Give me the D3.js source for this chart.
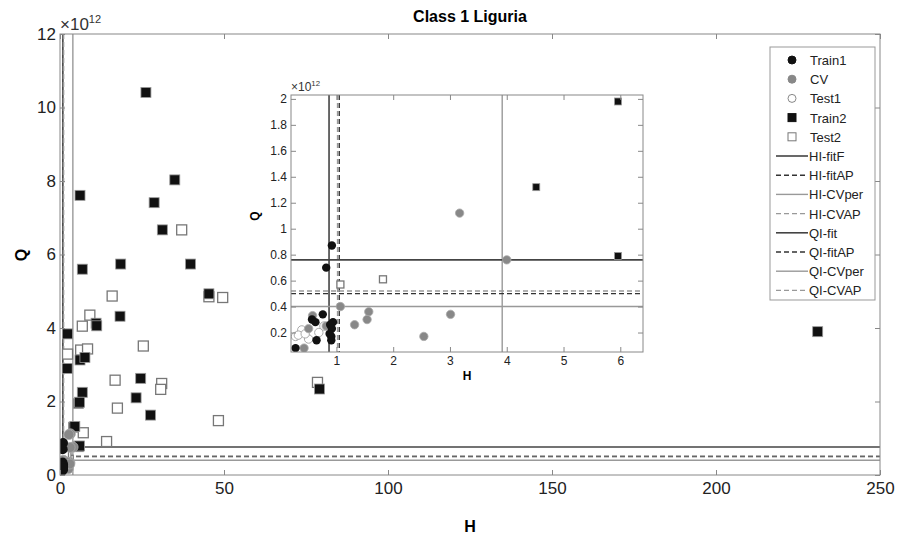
<!DOCTYPE html>
<html><head><meta charset="utf-8">
<script src="https://cdn.jsdelivr.net/npm/d3@7"></script>
<style>body{margin:0;background:#fff}svg{font-family:"Liberation Sans",Arial,sans-serif}</style>
</head><body><svg id="c" width="902" height="542"></svg>
<script>
// values in units of 1e12 for Q
const train1 = [[0.92,0.87],[0.82,0.70],[0.76,0.34],[0.57,0.30],[0.63,0.28],[0.94,0.28],[0.89,0.26],[0.91,0.17],[0.91,0.14],[0.65,0.14],[0.28,0.08],[0.92,0.23],[0.88,0.19]];
const cv = [[3.17,1.12],[4.0,0.76],[1.07,0.40],[1.57,0.36],[1.54,0.30],[1.32,0.26],[3.01,0.34],[2.54,0.17],[0.58,0.33],[0.51,0.23],[0.82,0.25],[0.43,0.08]];
const test1 = [[0.28,0.17],[0.39,0.22],[0.51,0.15],[0.69,0.20],[0.78,0.25],[0.33,0.18],[0.45,0.19]];
const train2Main = [[26.2,10.41],[35.0,8.03],[6.1,7.61],[28.7,7.41],[31.2,6.67],[39.8,5.74],[18.5,5.74],[6.8,5.6],[45.4,4.93],[18.3,4.32],[11.0,4.13],[11.2,4.06],[2.3,3.84],[6.1,3.13],[7.6,3.2],[2.2,2.9],[6.8,2.25],[5.6,1.95],[24.6,2.63],[23.2,2.1],[27.6,1.63],[79.1,2.34],[4.1,1.3],[5.6,0.77],[231,3.9]];
const train2Inset = [[5.96,1.98],[4.52,1.32],[5.96,0.79]];
const test2Main = [[37.1,6.67],[15.9,4.87],[9.1,4.35],[6.8,4.05],[6.3,3.4],[8.4,3.43],[2.3,3.29],[45.4,4.85],[49.6,4.83],[25.4,3.51],[31.0,2.49],[30.7,2.33],[16.8,2.58],[17.5,1.82],[7.1,1.15],[14.2,0.91],[48.3,1.48],[78.5,2.52],[2.5,0.4]];
const test2Inset = [[1.82,0.61],[1.07,0.57]];
const cvMain = [[2.7,1.1],[3.1,0.75],[2.2,0.35],[3.0,0.3]];
const vLines = [{n:"HI-fitF",v:0.87,c:"#444",d:null,w:1.6},{n:"HI-fitAP",v:1.05,c:"#333",d:"5,3",w:1.4},{n:"HI-CVper",v:3.92,c:"#999",d:null,w:1.4},{n:"HI-CVAP",v:1.02,c:"#999",d:"5,3",w:1.4}];
const hLines = [{n:"QI-fit",v:0.76,c:"#444",d:null,w:1.6},{n:"QI-fitAP",v:0.50,c:"#333",d:"5,3",w:1.4},{n:"QI-CVper",v:0.40,c:"#999",d:null,w:1.4},{n:"QI-CVAP",v:0.52,c:"#999",d:"5,3",w:1.4}];

const svg = d3.select("#c");

function panel(box, xd, yd, xt, yt, fs, ms, pts) {
  const x = d3.scaleLinear().domain(xd).range([box.l, box.r]);
  const y = d3.scaleLinear().domain(yd).range([box.b, box.t]);
  const g = svg.append("g");
  const cid = "clip" + box.l;
  g.append("clipPath").attr("id", cid).append("rect")
    .attr("x", box.l).attr("y", box.t).attr("width", box.r - box.l).attr("height", box.b - box.t);
  g.append("rect").attr("x", box.l).attr("y", box.t).attr("width", box.r - box.l).attr("height", box.b - box.t)
    .attr("fill", "#fff");
  const p = g.append("g").attr("clip-path", `url(#${cid})`);
  vLines.forEach(l => p.append("line").attr("x1", x(l.v)).attr("x2", x(l.v)).attr("y1", box.t).attr("y2", box.b)
    .attr("stroke", l.c).attr("stroke-width", l.w).attr("stroke-dasharray", l.d));
  hLines.forEach(l => p.append("line").attr("y1", y(l.v)).attr("y2", y(l.v)).attr("x1", box.l).attr("x2", box.r)
    .attr("stroke", l.c).attr("stroke-width", l.w).attr("stroke-dasharray", l.d));
  const sq = pts.sq;
  p.selectAll(".t2").data(pts.test2).enter().append("rect")
    .attr("x", d => x(d[0]) - sq / 2).attr("y", d => y(d[1]) - sq / 2).attr("width", sq).attr("height", sq)
    .attr("fill", "#fff").attr("stroke", "#777").attr("stroke-width", 1.3);
  p.selectAll(".tr2").data(pts.train2).enter().append("rect")
    .attr("x", d => x(d[0]) - sq / 2).attr("y", d => y(d[1]) - sq / 2).attr("width", sq).attr("height", sq)
    .attr("fill", "#111").attr("stroke", "#999").attr("stroke-width", 0.8);
  p.selectAll(".t1").data(test1).enter().append("circle")
    .attr("cx", d => x(d[0])).attr("cy", d => y(d[1])).attr("r", ms)
    .attr("fill", "#fff").attr("stroke", "#aaa").attr("stroke-width", 1);
  p.selectAll(".cv").data(pts.cv).enter().append("circle")
    .attr("cx", d => x(d[0])).attr("cy", d => y(d[1])).attr("r", ms)
    .attr("fill", "#888").attr("stroke", "#aaa").attr("stroke-width", 0.8);
  p.selectAll(".tr1").data(train1).enter().append("circle")
    .attr("cx", d => x(d[0])).attr("cy", d => y(d[1])).attr("r", ms)
    .attr("fill", "#111");
  const ax = (a, tr) => g.append("g").attr("transform", tr).call(a)
    .call(s => { s.select(".domain").remove(); s.selectAll("line").attr("stroke", "#888");
      s.selectAll("text").attr("font-size", fs).attr("fill", "#222"); });
  ax(d3.axisBottom(x).tickValues(xt).tickSize(-5).tickPadding(fs * 0.4).tickFormat(d3.format("")), `translate(0,${box.b})`);
  ax(d3.axisLeft(y).tickValues(yt).tickSize(-5).tickPadding(4).tickFormat(d3.format("")), `translate(${box.l},0)`);
  ax(d3.axisTop(x).tickValues(xt).tickSize(-5).tickFormat(""), `translate(0,${box.t})`);
  ax(d3.axisRight(y).tickValues(yt).tickSize(-5).tickFormat(""), `translate(${box.r},0)`);
  g.append("rect").attr("x", box.l).attr("y", box.t).attr("width", box.r - box.l).attr("height", box.b - box.t)
    .attr("fill", "none").attr("stroke", "#888");
  const ex = g.append("text").attr("x", box.l).attr("y", box.t - 4).attr("font-size", fs).attr("fill", "#333");
  ex.append("tspan").text("\u00d710");
  ex.append("tspan").attr("font-size", fs * 0.65).attr("dy", -fs * 0.4).text("12");
}

// main
const mb = {l: 60, r: 880, t: 34, b: 475};
panel(mb, [0, 250], [0, 12], d3.range(0, 251, 50), d3.range(0, 13, 2), 17, 5,
  {train2: train2Main.concat(train2Inset), test2: test2Main.concat(test2Inset), cv: cv.concat(cvMain), sq: 10});
svg.append("text").attr("x", 470).attr("y", 22).attr("text-anchor", "middle").attr("font-weight", "bold")
  .attr("font-size", 16).text("Class 1 Liguria");
svg.append("text").attr("x", 470).attr("y", 532).attr("text-anchor", "middle").attr("font-weight", "bold")
  .attr("font-size", 16).text("H");
svg.append("text").attr("transform", "translate(27,255) rotate(-90)").attr("text-anchor", "middle")
  .attr("font-weight", "bold").attr("font-size", 16).text("Q");

// inset
const ib = {l: 291, r: 643, t: 95, b: 352};
panel(ib, [0.2, 6.4], [0.05, 2.03], d3.range(1, 7), [0.2,0.4,0.6,0.8,1,1.2,1.4,1.6,1.8,2], 12, 4.2,
  {train2: train2Inset, test2: test2Inset, cv: cv, sq: 7});
svg.append("text").attr("x", 467).attr("y", 380).attr("text-anchor", "middle").attr("font-weight", "bold")
  .attr("font-size", 12).text("H");
svg.append("text").attr("transform", "translate(259,216) rotate(-90)").attr("text-anchor", "middle")
  .attr("font-weight", "bold").attr("font-size", 12).text("Q");

// legend
const lg = svg.append("g");
lg.append("rect").attr("x", 770).attr("y", 47).attr("width", 105).attr("height", 253)
  .attr("fill", "#fff").attr("stroke", "#999");
const items = [
  {n: "Train1", m: "c", f: "#111", s: "#111"}, {n: "CV", m: "c", f: "#888", s: "#888"},
  {n: "Test1", m: "c", f: "#fff", s: "#888"}, {n: "Train2", m: "s", f: "#111", s: "#111"},
  {n: "Test2", m: "s", f: "#fff", s: "#777"}
].concat(vLines, hLines);
items.forEach((it, i) => {
  const yy = 60 + i * 19.2;
  if (it.m === "c") lg.append("circle").attr("cx", 792).attr("cy", yy).attr("r", 4).attr("fill", it.f).attr("stroke", it.s);
  else if (it.m === "s") lg.append("rect").attr("x", 788).attr("y", yy - 4).attr("width", 8).attr("height", 8).attr("fill", it.f).attr("stroke", it.s);
  else lg.append("line").attr("x1", 776).attr("x2", 808).attr("y1", yy).attr("y2", yy)
    .attr("stroke", it.c).attr("stroke-width", it.w).attr("stroke-dasharray", it.d);
  lg.append("text").attr("x", it.m ? 810 : 809).attr("y", yy + 5).attr("font-size", 13).attr("fill", "#222").text(it.n);
});
</script></body></html>
